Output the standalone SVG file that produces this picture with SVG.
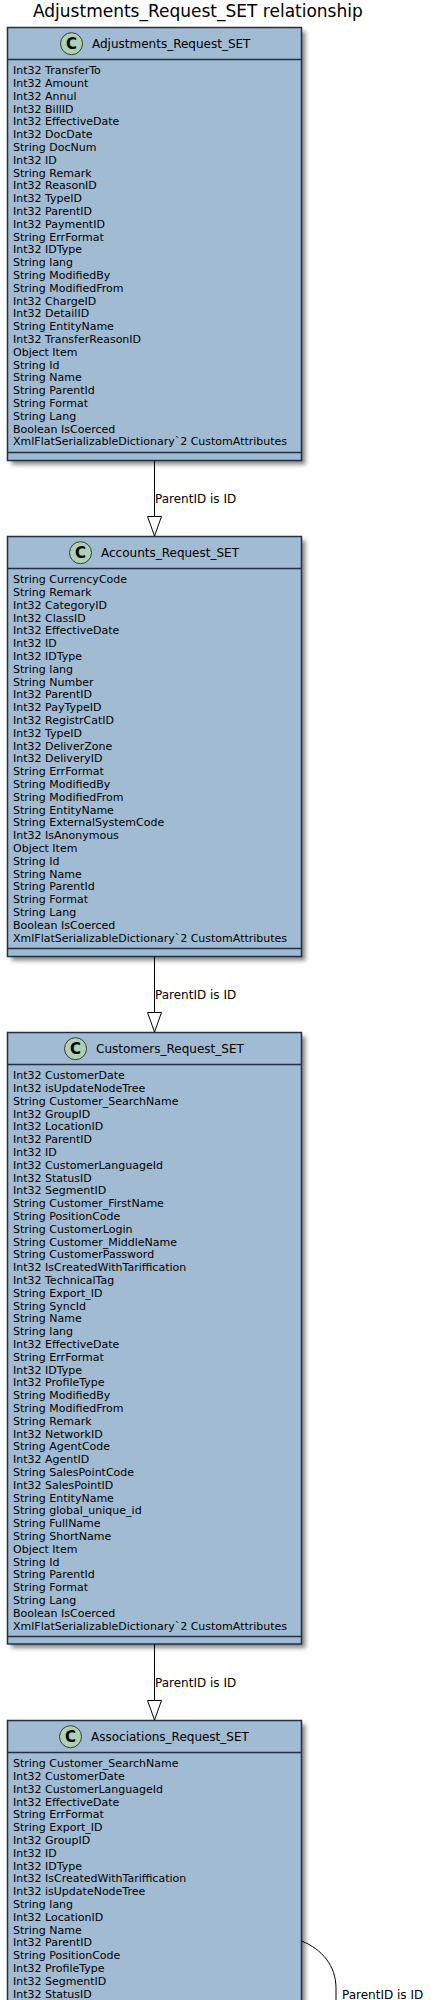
<svg xmlns="http://www.w3.org/2000/svg" width="440" height="2000" viewBox="0 0 440 2000">
<style>
text{font-family:"DejaVu Sans",sans-serif;fill:#000}
.t{font-size:17px}
.h{font-size:12px}
.r{font-size:11px}
.l{font-size:12px}
.c{font-size:15px;font-weight:bold;text-anchor:middle}
.b{fill:#A0BBD2;stroke:#1F3045;stroke-width:1.5}
.s{stroke:#1F3045;stroke-width:1.5;fill:none}
.o{fill:#ADD1B2;stroke:#3A3A3A;stroke-width:1}
.e{stroke:#000;stroke-width:1;fill:none}
.a{stroke:#000;stroke-width:1;fill:#fff}
</style>
<defs>
<filter id="sh" x="-5%" y="-5%" width="112%" height="112%"><feGaussianBlur stdDeviation="2"/></filter>
</defs>
<text class="t" x="33" y="17">Adjustments_Request_SET relationship</text>
<g id="Adjustments_Request_SET">
<rect x="11.5" y="31.5" width="294" height="433" fill="#888" filter="url(#sh)"/>
<rect class="b" x="7.5" y="27.5" width="294" height="433"/>
<path class="s" d="M7.5 59.5H301.5M7.5 452.5H301.5"/>
<circle class="o" cx="71.5" cy="43.7" r="11"/><text class="c" x="71.5" y="49">C</text>
<text class="h" x="92" y="48">Adjustments_Request_SET</text>
<g class="r" transform="translate(0,74)">
<text x="13" y="0">Int32 TransferTo</text>
<text x="13" y="13">Int32 Amount</text>
<text x="13" y="26">Int32 Annul</text>
<text x="13" y="39">Int32 BillID</text>
<text x="13" y="51">Int32 EffectiveDate</text>
<text x="13" y="64">Int32 DocDate</text>
<text x="13" y="77">String DocNum</text>
<text x="13" y="90">Int32 ID</text>
<text x="13" y="103">String Remark</text>
<text x="13" y="115">Int32 ReasonID</text>
<text x="13" y="128">Int32 TypeID</text>
<text x="13" y="141">Int32 ParentID</text>
<text x="13" y="154">Int32 PaymentID</text>
<text x="13" y="167">String ErrFormat</text>
<text x="13" y="179">Int32 IDType</text>
<text x="13" y="192">String lang</text>
<text x="13" y="205">String ModifiedBy</text>
<text x="13" y="218">String ModifiedFrom</text>
<text x="13" y="231">Int32 ChargeID</text>
<text x="13" y="243">Int32 DetailID</text>
<text x="13" y="256">String EntityName</text>
<text x="13" y="269">Int32 TransferReasonID</text>
<text x="13" y="282">Object Item</text>
<text x="13" y="295">String Id</text>
<text x="13" y="307">String Name</text>
<text x="13" y="320">String ParentId</text>
<text x="13" y="333">String Format</text>
<text x="13" y="346">String Lang</text>
<text x="13" y="359">Boolean IsCoerced</text>
<text x="13" y="371">XmlFlatSerializableDictionary`2 CustomAttributes</text>
</g>
</g>
<g id="Accounts_Request_SET">
<rect x="11.5" y="540.5" width="294" height="420" fill="#888" filter="url(#sh)"/>
<rect class="b" x="7.5" y="536.5" width="294" height="420"/>
<path class="s" d="M7.5 568.5H301.5M7.5 948.5H301.5"/>
<circle class="o" cx="80.5" cy="552.7" r="11"/><text class="c" x="80.5" y="558">C</text>
<text class="h" x="101" y="557">Accounts_Request_SET</text>
<g class="r" transform="translate(0,583)">
<text x="13" y="0">String CurrencyCode</text>
<text x="13" y="13">String Remark</text>
<text x="13" y="26">Int32 CategoryID</text>
<text x="13" y="39">Int32 ClassID</text>
<text x="13" y="51">Int32 EffectiveDate</text>
<text x="13" y="64">Int32 ID</text>
<text x="13" y="77">Int32 IDType</text>
<text x="13" y="90">String lang</text>
<text x="13" y="103">String Number</text>
<text x="13" y="115">Int32 ParentID</text>
<text x="13" y="128">Int32 PayTypeID</text>
<text x="13" y="141">Int32 RegistrCatID</text>
<text x="13" y="154">Int32 TypeID</text>
<text x="13" y="167">Int32 DeliverZone</text>
<text x="13" y="179">Int32 DeliveryID</text>
<text x="13" y="192">String ErrFormat</text>
<text x="13" y="205">String ModifiedBy</text>
<text x="13" y="218">String ModifiedFrom</text>
<text x="13" y="231">String EntityName</text>
<text x="13" y="243">String ExternalSystemCode</text>
<text x="13" y="256">Int32 IsAnonymous</text>
<text x="13" y="269">Object Item</text>
<text x="13" y="282">String Id</text>
<text x="13" y="295">String Name</text>
<text x="13" y="307">String ParentId</text>
<text x="13" y="320">String Format</text>
<text x="13" y="333">String Lang</text>
<text x="13" y="346">Boolean IsCoerced</text>
<text x="13" y="359">XmlFlatSerializableDictionary`2 CustomAttributes</text>
</g>
</g>
<g id="Customers_Request_SET">
<rect x="11.5" y="1036.5" width="294" height="611.5" fill="#888" filter="url(#sh)"/>
<rect class="b" x="7.5" y="1032.5" width="294" height="611.5"/>
<path class="s" d="M7.5 1064.5H301.5M7.5 1636.5H301.5"/>
<circle class="o" cx="75.5" cy="1048.7" r="11"/><text class="c" x="75.5" y="1054">C</text>
<text class="h" x="96" y="1053">Customers_Request_SET</text>
<g class="r" transform="translate(0,1079)">
<text x="13" y="0">Int32 CustomerDate</text>
<text x="13" y="13">Int32 isUpdateNodeTree</text>
<text x="13" y="26">String Customer_SearchName</text>
<text x="13" y="39">Int32 GroupID</text>
<text x="13" y="51">Int32 LocationID</text>
<text x="13" y="64">Int32 ParentID</text>
<text x="13" y="77">Int32 ID</text>
<text x="13" y="90">Int32 CustomerLanguageId</text>
<text x="13" y="103">Int32 StatusID</text>
<text x="13" y="115">Int32 SegmentID</text>
<text x="13" y="128">String Customer_FirstName</text>
<text x="13" y="141">String PositionCode</text>
<text x="13" y="154">String CustomerLogin</text>
<text x="13" y="167">String Customer_MiddleName</text>
<text x="13" y="179">String CustomerPassword</text>
<text x="13" y="192">Int32 IsCreatedWithTariffication</text>
<text x="13" y="205">Int32 TechnicalTag</text>
<text x="13" y="218">String Export_ID</text>
<text x="13" y="231">String SyncId</text>
<text x="13" y="243">String Name</text>
<text x="13" y="256">String lang</text>
<text x="13" y="269">Int32 EffectiveDate</text>
<text x="13" y="282">String ErrFormat</text>
<text x="13" y="295">Int32 IDType</text>
<text x="13" y="307">Int32 ProfileType</text>
<text x="13" y="320">String ModifiedBy</text>
<text x="13" y="333">String ModifiedFrom</text>
<text x="13" y="346">String Remark</text>
<text x="13" y="359">Int32 NetworkID</text>
<text x="13" y="371">String AgentCode</text>
<text x="13" y="384">Int32 AgentID</text>
<text x="13" y="397">String SalesPointCode</text>
<text x="13" y="410">Int32 SalesPointID</text>
<text x="13" y="423">String EntityName</text>
<text x="13" y="435">String global_unique_id</text>
<text x="13" y="448">String FullName</text>
<text x="13" y="461">String ShortName</text>
<text x="13" y="474">Object Item</text>
<text x="13" y="487">String Id</text>
<text x="13" y="499">String ParentId</text>
<text x="13" y="512">String Format</text>
<text x="13" y="525">String Lang</text>
<text x="13" y="538">Boolean IsCoerced</text>
<text x="13" y="551">XmlFlatSerializableDictionary`2 CustomAttributes</text>
</g>
</g>
<g id="Associations_Request_SET">
<rect x="11.5" y="1724.5" width="294" height="300" fill="#888" filter="url(#sh)"/>
<rect class="b" x="7.5" y="1720.5" width="294" height="300"/>
<path class="s" d="M7.5 1752.5H301.5"/>
<circle class="o" cx="70.5" cy="1736.7" r="11"/><text class="c" x="70.5" y="1742">C</text>
<text class="h" x="91" y="1741">Associations_Request_SET</text>
<g class="r" transform="translate(0,1767)">
<text x="13" y="0">String Customer_SearchName</text>
<text x="13" y="13">Int32 CustomerDate</text>
<text x="13" y="26">Int32 CustomerLanguageId</text>
<text x="13" y="39">Int32 EffectiveDate</text>
<text x="13" y="51">String ErrFormat</text>
<text x="13" y="64">String Export_ID</text>
<text x="13" y="77">Int32 GroupID</text>
<text x="13" y="90">Int32 ID</text>
<text x="13" y="103">Int32 IDType</text>
<text x="13" y="115">Int32 IsCreatedWithTariffication</text>
<text x="13" y="128">Int32 isUpdateNodeTree</text>
<text x="13" y="141">String lang</text>
<text x="13" y="154">Int32 LocationID</text>
<text x="13" y="167">String Name</text>
<text x="13" y="179">Int32 ParentID</text>
<text x="13" y="192">String PositionCode</text>
<text x="13" y="205">Int32 ProfileType</text>
<text x="13" y="218">Int32 SegmentID</text>
<text x="13" y="231">Int32 StatusID</text>
</g>
</g>
<g id="connectors">
<path class="e" d="M154.5 460.5V516.5"/><path class="a" d="M147.5 516.5H161.5L154.5 536Z"/>
<path class="e" d="M154.5 956.5V1012.5"/><path class="a" d="M147.5 1012.5H161.5L154.5 1032Z"/>
<path class="e" d="M154.5 1644V1700.5"/><path class="a" d="M147.5 1700.5H161.5L154.5 1720Z"/>
<path class="e" d="M301.5 1941C322 1949 336 1966 336 1988V2000"/>
<text class="l" x="155" y="503">ParentID is ID</text>
<text class="l" x="155" y="999">ParentID is ID</text>
<text class="l" x="155" y="1687">ParentID is ID</text>
<text class="l" x="342" y="1999">ParentID is ID</text>
</g>
</svg>
